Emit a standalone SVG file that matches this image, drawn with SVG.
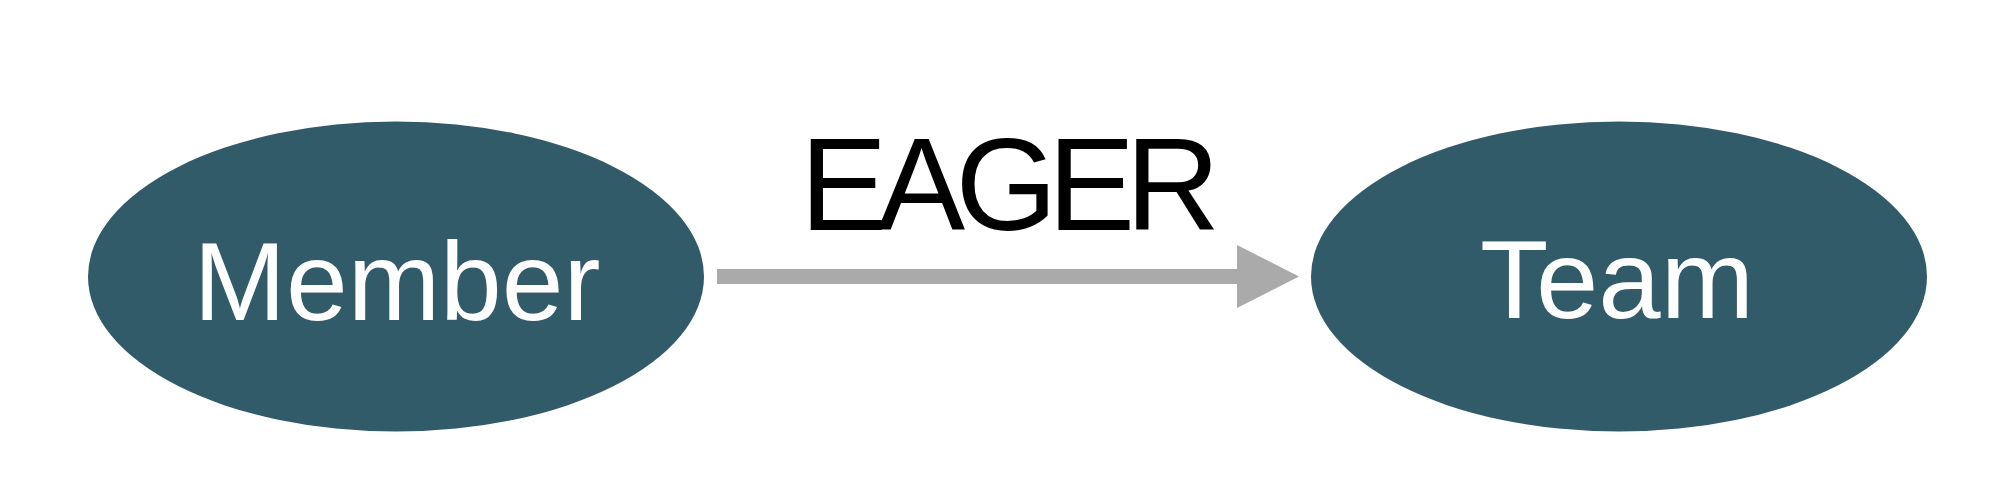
<svg xmlns="http://www.w3.org/2000/svg" width="2000" height="499" viewBox="0 0 2000 499">
<style>
.node{fill:#325b6a}
.lbl{font-family:"Liberation Sans",Arial,sans-serif;fill:#ffffff;text-anchor:middle}
.elbl{font-family:"Liberation Sans",Arial,sans-serif;fill:#000000;text-anchor:middle}
.edge{stroke:#aaaaaa;stroke-width:15;fill:none}
</style>
<defs>
<marker id="arrow" markerUnits="userSpaceOnUse" markerWidth="64" markerHeight="64" refX="1" refY="32" orient="auto">
<path d="M0,0.5 L62,32 L0,63.5 Z" fill="#aaaaaa"/>
</marker>
</defs>
<rect width="2000" height="499" fill="#ffffff"/>
<g id="connectors">
<line class="edge" x1="717" y1="276.5" x2="1238" y2="276.5" marker-end="url(#arrow)"/>
<text class="elbl" x="1010" y="230" font-size="131" textLength="420" lengthAdjust="spacing">EAGER</text>
</g>
<g id="node-member">
<ellipse class="node" cx="396" cy="276.5" rx="308" ry="155"/>
<text class="lbl" x="397" y="320" font-size="111">Member</text>
</g>
<g id="node-team">
<ellipse class="node" cx="1619" cy="276.5" rx="308" ry="155"/>
<text class="lbl" x="1617" y="318" font-size="112">Team</text>
</g>
</svg>
